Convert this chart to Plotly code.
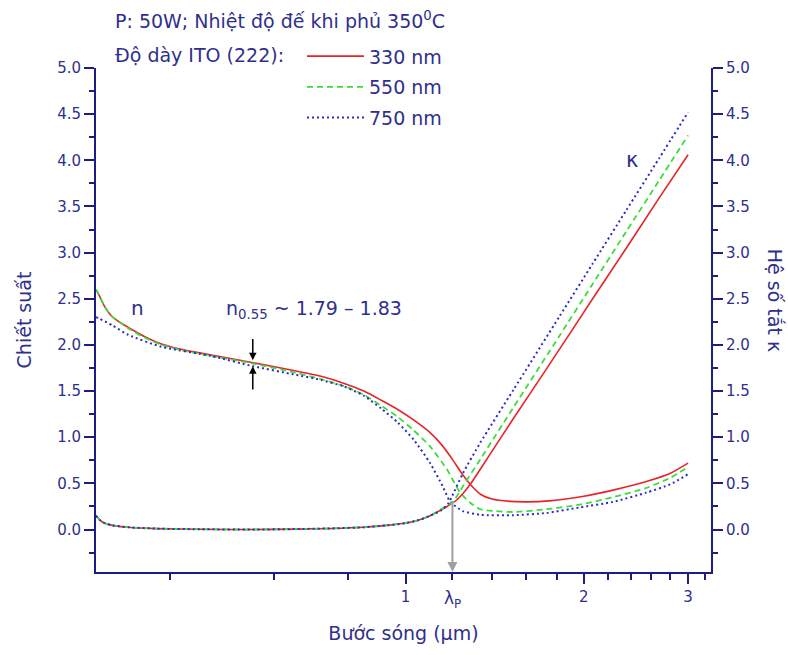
import numpy as np
import plotly.graph_objects as go

# ---------------- data ----------------
# refractive index n
n330_x = [0.30, 0.303, 0.31, 0.319, 0.33, 0.34, 0.36, 0.387, 0.42, 0.47, 0.55, 0.65, 0.72, 0.79, 0.85, 0.91, 0.97, 1.03, 1.10, 1.15, 1.20, 1.25, 1.29, 1.34, 1.40, 1.50, 1.60, 1.75, 2.00, 2.25, 2.55, 2.80, 3.00]
n330_y = [2.60, 2.55, 2.42, 2.31, 2.24, 2.19, 2.10, 2.01, 1.95, 1.89, 1.81, 1.72, 1.66, 1.58, 1.50, 1.40, 1.30, 1.19, 1.05, 0.92, 0.76, 0.59, 0.48, 0.38, 0.33, 0.305, 0.30, 0.31, 0.36, 0.43, 0.52, 0.61, 0.72]

n550_x = [0.30, 0.303, 0.31, 0.319, 0.33, 0.34, 0.36, 0.387, 0.42, 0.47, 0.55, 0.65, 0.72, 0.79, 0.85, 0.91, 0.97, 1.03, 1.10, 1.175, 1.206, 1.236, 1.286, 1.337, 1.42, 1.52, 1.73, 1.97, 2.24, 2.55, 2.80, 3.00]
n550_y = [2.60, 2.55, 2.42, 2.31, 2.24, 2.18, 2.09, 2.00, 1.94, 1.88, 1.80, 1.70, 1.63, 1.55, 1.46, 1.34, 1.22, 1.08, 0.90, 0.65, 0.52, 0.40, 0.29, 0.22, 0.20, 0.19, 0.22, 0.27, 0.35, 0.45, 0.56, 0.68]

n750_x = [0.30, 0.303, 0.32, 0.34, 0.387, 0.47, 0.552, 0.648, 0.72, 0.787, 0.85, 0.91, 0.97, 1.033, 1.10, 1.155, 1.19, 1.25, 1.337, 1.52, 1.73, 1.97, 2.24, 2.55, 2.80, 3.00]
n750_y = [2.30, 2.29, 2.21, 2.11, 1.98, 1.88, 1.77, 1.68, 1.62, 1.55, 1.45, 1.31, 1.16, 0.97, 0.72, 0.47, 0.30, 0.20, 0.16, 0.155, 0.18, 0.24, 0.30, 0.40, 0.49, 0.60]

# extinction coefficient kappa
k330_x = [0.30, 0.305, 0.31, 0.32, 0.34, 0.38, 0.45, 0.55, 0.65, 0.75, 0.85, 0.93, 1.00, 1.05, 1.10, 1.175, 1.22, 1.25, 1.286, 1.40, 1.52, 1.73, 2.07, 2.36, 2.68, 3.00]
k330_y = [0.15, 0.10, 0.07, 0.045, 0.025, 0.01, 0.003, 0.0, 0.005, 0.012, 0.025, 0.045, 0.07, 0.10, 0.15, 0.25, 0.32, 0.39, 0.49, 0.85, 1.20, 1.74, 2.50, 3.05, 3.59, 4.06]

k550_x = [0.30, 0.305, 0.31, 0.32, 0.34, 0.38, 0.45, 0.55, 0.65, 0.75, 0.85, 0.93, 1.00, 1.05, 1.10, 1.175, 1.206, 1.25, 1.337, 1.52, 1.82, 2.07, 2.36, 2.68, 3.00]
k550_y = [0.15, 0.10, 0.07, 0.045, 0.025, 0.01, 0.003, 0.0, 0.005, 0.012, 0.025, 0.045, 0.07, 0.10, 0.15, 0.26, 0.31, 0.47, 0.76, 1.32, 2.10, 2.66, 3.23, 3.78, 4.27]

k750_x = [0.30, 0.305, 0.31, 0.32, 0.34, 0.38, 0.45, 0.55, 0.65, 0.75, 0.85, 0.93, 1.00, 1.05, 1.10, 1.15, 1.18, 1.20, 1.25, 1.337, 1.52, 1.82, 2.07, 2.36, 2.68, 3.00]
k750_y = [0.15, 0.10, 0.07, 0.045, 0.025, 0.01, 0.003, 0.0, 0.005, 0.012, 0.025, 0.045, 0.07, 0.10, 0.15, 0.21, 0.28, 0.37, 0.61, 0.94, 1.51, 2.31, 2.88, 3.46, 4.02, 4.52]

thickness_labels = ["330 nm", "550 nm", "750 nm"]
x_tickvals = [1, 2, 3]
x_minor = [0.4, 0.6, 0.8, 1.2, 1.4, 1.6, 1.8, 2.2, 2.4, 2.6, 2.8, 3.2]
y_ticks = [0.0, 0.5, 1.0, 1.5, 2.0, 2.5, 3.0, 3.5, 4.0, 4.5, 5.0]
lambda_p = 1.2

# ---------------- styling ----------------
NAVY = "#1e1e82"
TXT = "#2f2f8e"
FONT = "DejaVu Sans"
RED = "#e8232a"
GREEN = "#3ddc3d"
BLUE = "#2c2cc8"
FS = 19

styles = [
    dict(color=RED, width=1.6, dash="solid"),
    dict(color=GREEN, width=1.8, dash="6px,4px"),
    dict(color=BLUE, width=2, dash="2px,3px"),
]

fig = go.Figure()
n_sets = [(n330_x, n330_y), (n550_x, n550_y), (n750_x, n750_y)]
k_sets = [(k330_x, k330_y), (k550_x, k550_y), (k750_x, k750_y)]

for i, ((nx, ny), lab) in enumerate(zip(n_sets, thickness_labels)):
    fig.add_trace(go.Scatter(x=nx, y=ny, mode="lines", name=lab,
                             legendgroup=lab, showlegend=True,
                             line=dict(shape="spline", smoothing=0.6, **styles[i]),
                             yaxis="y"))
for i, ((kx, ky), lab) in enumerate(zip(k_sets, thickness_labels)):
    fig.add_trace(go.Scatter(x=kx, y=ky, mode="lines", name=lab,
                             legendgroup=lab, showlegend=False,
                             line=dict(shape="spline", smoothing=0.6, **styles[i]),
                             yaxis="y2"))

YR = [-0.46, 5.0]
L10 = np.log10

axis_common = dict(ticks="outside", ticklen=10, tickwidth=2, tickcolor=NAVY,
                   showline=True, linecolor=NAVY, linewidth=2,
                   showgrid=False, zeroline=False,
                   tickfont=dict(size=15, color=TXT))
yminor = dict(dtick=0.25, tick0=0, ticks="outside", ticklen=5,
              tickwidth=2, tickcolor=NAVY, showgrid=False)

fig.update_layout(
    width=788, height=655,
    margin=dict(l=96, r=77, t=68, b=83),
    paper_bgcolor="white", plot_bgcolor="white",
    font=dict(family=FONT, color=TXT, size=15),
    xaxis=dict(type="log", range=[L10(0.3), L10(3.28)],
               tickvals=x_tickvals, ticktext=[str(v) for v in x_tickvals],
               minor=dict(tickvals=x_minor, ticks="outside", ticklen=6,
                          tickwidth=2, tickcolor=NAVY, showgrid=False),
               title=dict(text="Bước sóng (μm)", font=dict(size=FS, color=TXT), standoff=22),
               **axis_common),
    yaxis=dict(range=YR, tickvals=y_ticks, tickformat=".1f", minor=yminor,
               title=dict(text="Chiết suất", font=dict(size=FS, color=TXT), standoff=20),
               **axis_common),
    yaxis2=dict(range=YR, tickvals=y_ticks, tickformat=".1f", overlaying="y", side="right",
                minor=yminor, **axis_common),
    legend=dict(x=(302 - 96) / 615, y=1.061, xanchor="left", yanchor="top",
                bgcolor="rgba(0,0,0,0)", borderwidth=0,
                font=dict(size=FS, color=TXT), itemwidth=57,
                tracegroupgap=3, traceorder="grouped"),
    showlegend=True,
)

ann = []
ann.append(dict(xref="paper", yref="paper", x=(113 - 96) / 615, y=(572.5 - 20) / 504.5,
                xanchor="left", yanchor="middle", showarrow=False,
                text="P: 50W; Nhiệt độ đế khi phủ 350<sup>0</sup>C", font=dict(size=FS, color=TXT)))
ann.append(dict(xref="paper", yref="paper", x=(113 - 96) / 615, y=(572.5 - 55) / 504.5,
                xanchor="left", yanchor="middle", showarrow=False,
                text="Độ dày ITO (222):", font=dict(size=FS, color=TXT)))
ann.append(dict(xref="x", yref="y", x=L10(0.353), y=2.40, showarrow=False,
                text="n", font=dict(size=20, color=TXT)))
ann.append(dict(xref="x", yref="y", x=L10(0.494), y=2.38, xanchor="left", showarrow=False,
                text="n<sub>0.55</sub> ~ 1.79 – 1.83", font=dict(size=FS, color=TXT)))
ann.append(dict(xref="x", yref="y", x=L10(2.41), y=4.0, showarrow=False,
                text="κ", font=dict(size=21, color=TXT)))
# arrows at 0.55 µm
ann.append(dict(xref="x", yref="y", axref="x", ayref="y", x=L10(0.552), y=1.835,
                ax=L10(0.552), ay=2.08, text="", showarrow=True, arrowhead=2,
                arrowsize=1, arrowwidth=1.5, arrowcolor="black"))
ann.append(dict(xref="x", yref="y", axref="x", ayref="y", x=L10(0.552), y=1.77,
                ax=L10(0.552), ay=1.50, text="", showarrow=True, arrowhead=2,
                arrowsize=1, arrowwidth=1.5, arrowcolor="black"))
# plasma wavelength marker
ann.append(dict(xref="x", yref="y", axref="x", ayref="y", x=L10(lambda_p), y=YR[0],
                ax=L10(lambda_p), ay=0.32, text="", showarrow=True, arrowhead=2,
                arrowsize=1, arrowwidth=2, arrowcolor="#a0a0a0"))
ann.append(dict(xref="x", yref="paper", x=L10(lambda_p), y=0, yshift=-14,
                xanchor="center", yanchor="top", showarrow=False,
                text="λ<sub>P</sub>", font=dict(size=17, color=TXT)))
# right axis title
ann.append(dict(xref="paper", yref="paper", x=(775 - 96) / 615, y=(572.5 - 300) / 504.5,
                xanchor="center", yanchor="middle", showarrow=False, textangle=90,
                text="Hệ số tắt κ", font=dict(size=FS, color=TXT)))
fig.update_layout(annotations=ann)

fig.write_html("out.html")
